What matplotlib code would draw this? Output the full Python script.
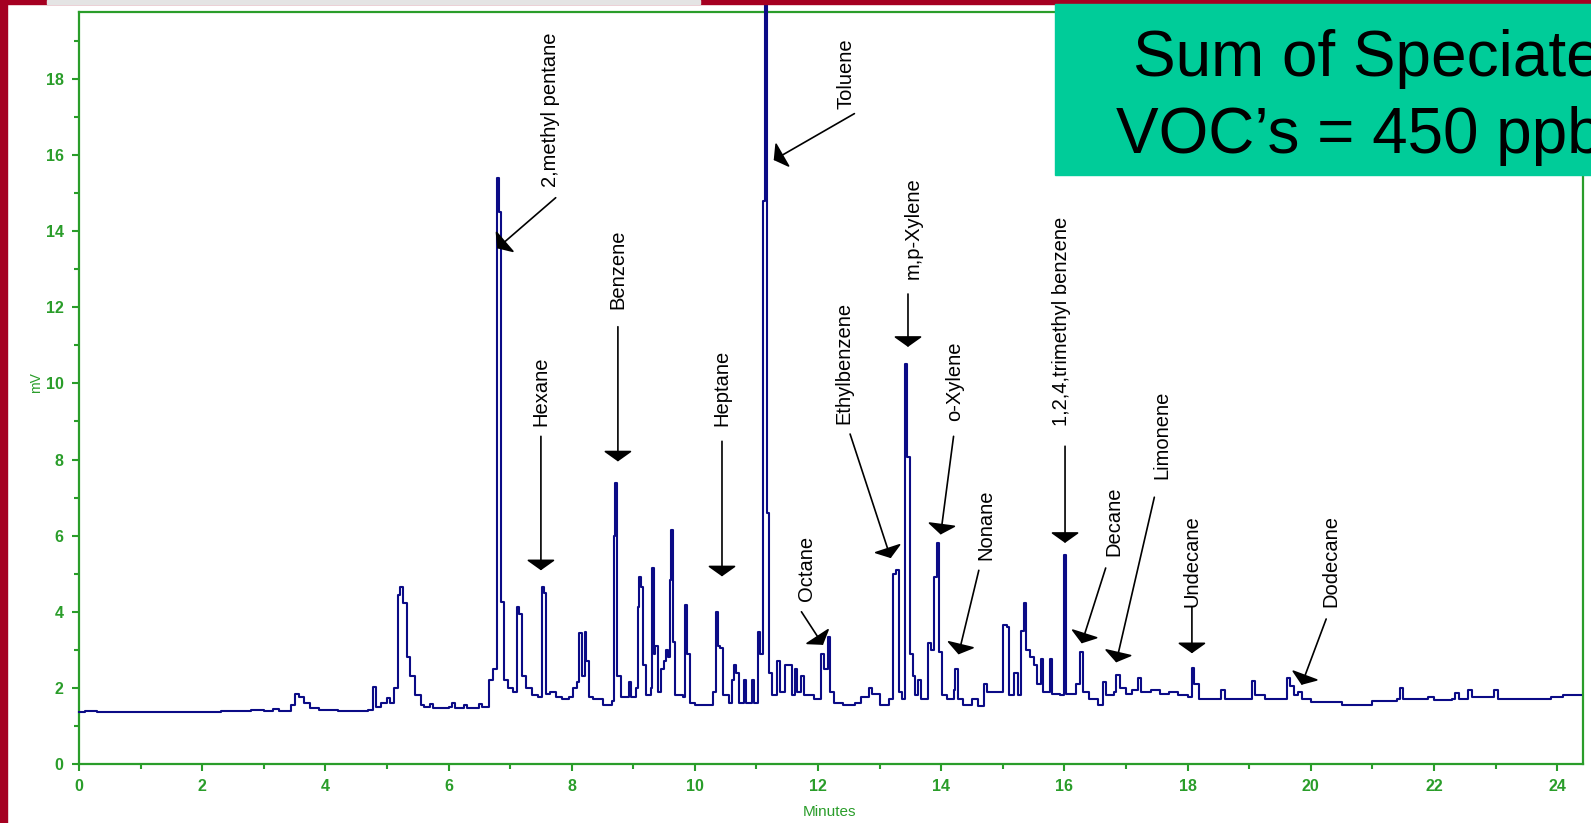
"""Gas chromatogram of speciated VOCs (mV vs minutes) with labelled peaks."""
import matplotlib
matplotlib.use("Agg")
import matplotlib.pyplot as plt
from matplotlib import font_manager
from matplotlib.patches import Rectangle
from matplotlib.ticker import MultipleLocator

# --- detector trace (drawn as steps) ---
minutes = [
    0.00, 0.10, 0.30, 2.30, 2.45, 2.60, 2.80, 3.00, 3.15, 3.25, 3.45, 3.50, 3.58, 3.65, 3.75, 3.90,
    4.20, 4.50, 4.70, 4.77, 4.83, 4.90, 5.00, 5.05, 5.12, 5.18, 5.22, 5.26, 5.33, 5.38, 5.45, 5.55,
    5.60, 5.70, 5.75, 6.00, 6.05, 6.10, 6.25, 6.30, 6.50, 6.55, 6.65, 6.72, 6.79, 6.82, 6.86, 6.90,
    6.97, 7.05, 7.11, 7.15, 7.19, 7.25, 7.35, 7.45, 7.51, 7.55, 7.58, 7.65, 7.75, 7.85, 7.95, 8.02,
    8.08, 8.12, 8.16, 8.21, 8.24, 8.28, 8.35, 8.50, 8.66, 8.68, 8.71, 8.74, 8.80, 8.93, 8.96, 9.05,
    9.07, 9.10, 9.13, 9.16, 9.20, 9.28, 9.30, 9.33, 9.36, 9.40, 9.45, 9.50, 9.53, 9.57, 9.59, 9.62,
    9.65, 9.68, 9.80, 9.84, 9.87, 9.92, 10.00, 10.20, 10.30, 10.35, 10.38, 10.41, 10.45, 10.55, 10.60, 10.63,
    10.66, 10.72, 10.79, 10.83, 10.92, 10.96, 11.02, 11.06, 11.10, 11.14, 11.17, 11.20, 11.25, 11.34, 11.38, 11.47,
    11.53, 11.58, 11.62, 11.66, 11.72, 11.77, 11.85, 11.93, 12.05, 12.10, 12.16, 12.20, 12.26, 12.40, 12.60, 12.70,
    12.82, 12.88, 13.00, 13.15, 13.22, 13.27, 13.31, 13.37, 13.41, 13.45, 13.49, 13.54, 13.58, 13.63, 13.67, 13.78,
    13.83, 13.88, 13.93, 13.96, 14.02, 14.10, 14.20, 14.23, 14.27, 14.35, 14.50, 14.60, 14.70, 14.74, 15.00, 15.06,
    15.10, 15.18, 15.25, 15.30, 15.35, 15.38, 15.44, 15.50, 15.56, 15.62, 15.66, 15.76, 15.80, 15.93, 16.00, 16.03,
    16.18, 16.26, 16.30, 16.40, 16.55, 16.62, 16.68, 16.80, 16.84, 16.90, 17.00, 17.10, 17.20, 17.25, 17.40, 17.55,
    17.70, 17.85, 18.00, 18.07, 18.11, 18.18, 18.40, 18.55, 18.60, 18.80, 19.05, 19.10, 19.25, 19.55, 19.62, 19.66,
    19.72, 19.80, 19.86, 20.00, 20.50, 21.00, 21.40, 21.45, 21.50, 21.90, 22.00, 22.30, 22.34, 22.40, 22.55, 22.62,
    22.98, 23.04, 23.50, 23.90, 24.10, 24.39,
]
millivolts = [
    1.37, 1.40, 1.37, 1.40, 1.38, 1.40, 1.42, 1.40, 1.45, 1.40, 1.55, 1.85, 1.75, 1.60, 1.48, 1.42,
    1.40, 1.38, 1.42, 2.03, 1.50, 1.60, 1.73, 1.60, 2.00, 4.45, 4.66, 4.22, 2.82, 2.30, 1.80, 1.55,
    1.50, 1.58, 1.48, 1.50, 1.60, 1.48, 1.55, 1.48, 1.58, 1.50, 2.20, 2.50, 15.40, 14.50, 4.26, 2.20,
    2.00, 1.90, 4.13, 3.95, 2.30, 2.00, 1.80, 1.75, 4.66, 4.50, 1.85, 1.90, 1.75, 1.70, 1.75, 2.00,
    2.15, 3.43, 2.30, 3.47, 2.70, 1.75, 1.70, 1.55, 1.65, 6.00, 7.38, 2.30, 1.75, 2.15, 1.75, 2.00,
    4.12, 4.92, 4.66, 2.60, 1.80, 2.00, 5.14, 2.90, 3.10, 1.90, 2.50, 2.70, 3.00, 2.80, 4.83, 6.15,
    3.20, 1.80, 1.75, 4.18, 2.90, 1.60, 1.55, 1.55, 1.90, 4.00, 3.10, 3.05, 1.80, 1.60, 2.20, 2.60,
    2.40, 1.60, 2.20, 1.60, 2.20, 1.60, 3.47, 2.90, 14.80, 21.00, 6.60, 2.38, 1.80, 2.70, 1.90, 2.60,
    2.60, 1.80, 2.50, 1.90, 2.30, 1.80, 1.80, 1.70, 2.90, 2.50, 3.35, 1.90, 1.60, 1.55, 1.60, 1.75,
    2.00, 1.85, 1.55, 1.70, 5.00, 5.10, 1.90, 1.70, 10.50, 8.07, 2.90, 2.30, 1.80, 2.20, 1.70, 3.17,
    3.00, 4.92, 5.80, 2.95, 1.80, 1.70, 1.95, 2.50, 1.70, 1.55, 1.70, 1.52, 2.10, 1.90, 3.65, 3.60,
    1.80, 2.40, 1.80, 3.50, 4.22, 3.00, 2.80, 2.60, 2.10, 2.75, 1.90, 2.75, 1.85, 1.80, 5.50, 1.85,
    2.10, 2.95, 1.90, 1.70, 1.55, 2.15, 1.80, 1.90, 2.35, 2.00, 1.85, 1.95, 2.25, 1.90, 1.95, 1.85,
    1.90, 1.80, 1.75, 2.51, 2.10, 1.70, 1.70, 1.95, 1.70, 1.70, 2.17, 1.80, 1.70, 1.70, 2.25, 2.05,
    1.80, 1.90, 1.70, 1.62, 1.56, 1.65, 1.70, 2.00, 1.72, 1.76, 1.68, 1.72, 1.87, 1.70, 1.94, 1.75,
    1.94, 1.72, 1.70, 1.76, 1.80, 1.81,
]

# --- peak labels: name, label position (x centre, bottom), arrow tail, arrow head ---
compounds = ["2,methyl pentane", "Hexane", "Benzene", "Heptane", "Toluene", "Octane",
             "Ethylbenzene", "m,p-Xylene", "o-Xylene", "Nonane", "1,2,4,trimethyl benzene",
             "Decane", "Limonene", "Undecane", "Dodecane"]
label_x = [7.66, 7.50, 8.75, 10.44, 12.45, 11.81, 12.42, 13.54, 14.22, 14.73, 15.95, 16.80, 17.59, 18.07, 20.33]
label_y = [15.15, 8.88, 11.95, 8.88, 17.20, 4.29, 8.93, 12.75, 9.01, 5.36, 8.88, 5.47, 7.49, 4.13, 4.13]
tail_x = [7.74, 7.50, 8.75, 10.44, 12.59, 11.73, 12.52, 13.46, 14.20, 14.61, 16.01, 16.67, 17.46, 18.07, 20.25]
tail_y = [14.88, 8.61, 11.49, 8.48, 17.09, 4.00, 8.67, 12.35, 8.61, 5.09, 8.35, 5.15, 7.01, 4.13, 3.81]
head_x = [6.79, 7.50, 8.75, 10.44, 11.28, 12.08, 13.18, 13.46, 13.99, 14.28, 16.01, 16.28, 16.84, 18.07, 19.85]
head_y = [13.55, 5.09, 7.95, 4.93, 15.87, 3.13, 5.41, 10.96, 6.03, 2.88, 5.81, 3.17, 2.67, 2.91, 2.08]

GREEN = "#2a9d2a"
NAVY = "#0b0b86"
W, H = 1591, 823

names = {f.name for f in font_manager.fontManager.ttflist}
if "Liberation Sans Narrow" in names:
    label_font, label_size = "Liberation Sans Narrow", 16.5
else:
    label_font, label_size = "Liberation Sans", 14.5

fig = plt.figure(figsize=(W / 100, H / 100), dpi=100)
ax = fig.add_axes([79 / W, 1 - 764 / H, (1583 - 79) / W, (764 - 12) / H])

ax.plot(minutes, millivolts, drawstyle="steps-post", color=NAVY, lw=1.5, clip_on=False, zorder=3)

for name, lx, ly, tx, ty, hx, hy in zip(compounds, label_x, label_y, tail_x, tail_y, head_x, head_y):
    ax.text(lx, ly, name, rotation=90, ha="center", va="bottom",
            family=label_font, fontsize=label_size, color="black", zorder=4)
    ax.annotate("", xy=(hx, hy), xytext=(tx, ty),
                arrowprops=dict(arrowstyle="-|>,head_length=0.32,head_width=0.45",
                                mutation_scale=20, color="black", lw=1.2,
                                shrinkA=0, shrinkB=0), zorder=4)

ax.set_xlim(0, 24.42)
ax.set_ylim(0, 19.76)
ax.xaxis.set_major_locator(MultipleLocator(2))
ax.xaxis.set_minor_locator(MultipleLocator(1))
ax.yaxis.set_major_locator(MultipleLocator(2))
ax.yaxis.set_minor_locator(MultipleLocator(1))
for s in ax.spines.values():
    s.set_color(GREEN)
    s.set_linewidth(1.6)
ax.tick_params(which="major", colors=GREEN, length=5, width=1.5, pad=6, labelsize=11.5)
ax.tick_params(which="minor", colors=GREEN, length=3.5, width=1.5)
for lab in ax.get_xticklabels() + ax.get_yticklabels():
    lab.set_family("Liberation Sans")
    lab.set_fontweight("bold")

fig.text(36 / W, 1 - 383 / H, "mV", rotation=90, color=GREEN, fontsize=10,
         family="Liberation Sans", ha="center", va="center")
fig.text(830 / W, 1 - 812 / H, "Minutes", color=GREEN, fontsize=11,
         family="Liberation Sans", ha="center", va="center")

# slide decorations: red frame pieces and the teal summary box
fig.patches.append(Rectangle((0, 0), 7 / W, 1, transform=fig.transFigure,
                             color="#a50021", zorder=20))
fig.patches.append(Rectangle((0, 1 - 4 / H), 1, 4 / H, transform=fig.transFigure,
                             color="#a50021", zorder=20))
fig.patches.append(Rectangle((47 / W, 1 - 4 / H), (700 - 47) / W, 4 / H,
                             transform=fig.transFigure, color="#e4e4e4", zorder=21))
fig.patches.append(Rectangle((1055 / W, 1 - 175 / H), 1, (175 - 4) / H,
                             transform=fig.transFigure, color="#00cc99", zorder=20))
# the summary text runs past the right edge of the slide, as in the source
fig.text(1133 / W, 1 - 76 / H, "Sum of Speciated", fontsize=46, family="Liberation Sans",
         ha="left", va="baseline", color="black", zorder=22)
fig.text(1116 / W, 1 - 153 / H, "VOC\u2019s = 450 ppb", fontsize=46, family="Liberation Sans",
         ha="left", va="baseline", color="black", zorder=22)

fig.savefig("out.png", dpi=100)
